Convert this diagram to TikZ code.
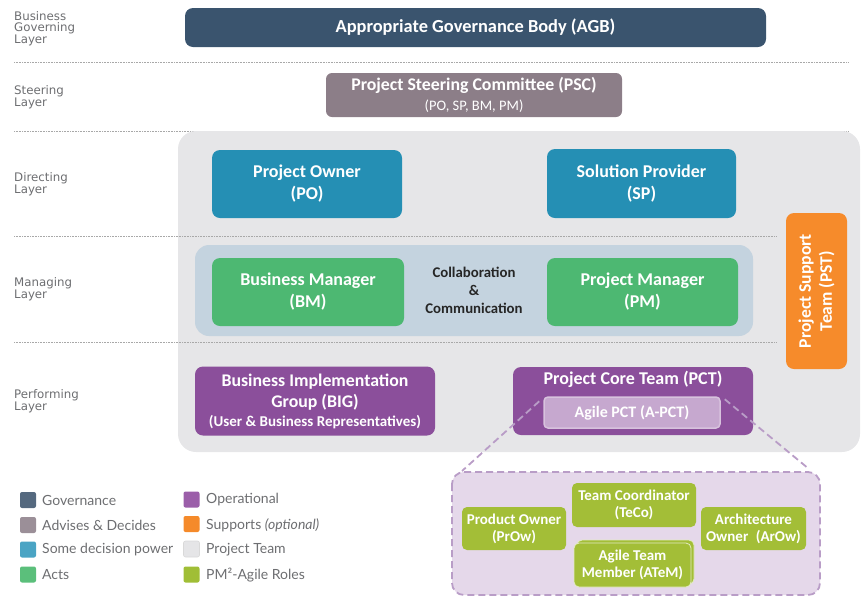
\documentclass[tikz,border=0pt]{standalone}
\usepackage{fontspec}
\setmainfont{Carlito}
\newfontfamily\lblfont{Lato}
\newfontfamily\layfont{DejaVu Sans}
\usetikzlibrary{calc}
\definecolor{agbc}{HTML}{3A546E}
\definecolor{pscc}{HTML}{8C7E88}
\definecolor{dirc}{HTML}{258FB4}
\definecolor{collc}{HTML}{C4D3DF}
\definecolor{actc}{HTML}{4DB872}
\definecolor{pstc}{HTML}{F68B2B}
\definecolor{purc}{HTML}{8B4F9B}
\definecolor{apctc}{HTML}{C6A8CF}
\definecolor{apctb}{HTML}{D7C2DD}
\definecolor{agfill}{HTML}{E5D8EA}
\definecolor{agline}{HTML}{B99DC7}
\definecolor{rolec}{HTML}{A3BE37}
\definecolor{teamc}{HTML}{E6E6E8}
\definecolor{lblc}{HTML}{6D6E71}
\definecolor{dotc}{HTML}{A8A8A8}
\definecolor{lgov}{HTML}{55697F}
\definecolor{ladv}{HTML}{9B8F98}
\definecolor{ldec}{HTML}{4AA4C4}
\definecolor{lact}{HTML}{5BBF7B}
\definecolor{lop}{HTML}{9B5EA9}
\definecolor{lsup}{HTML}{F58A2A}
\definecolor{lpt}{HTML}{E5E5E7}
\definecolor{lpm}{HTML}{A0BE36}
\newcommand{\fsz}[2]{\fontsize{#1}{#2}\selectfont}
\begin{document}
\begin{tikzpicture}[x=1pt,y=-1pt,
  rolebox/.style={rounded corners=8pt, inner sep=0pt, align=center, text=white,
    font=\bfseries\fsz{18}{22}},
  agrole/.style={rounded corners=5pt, inner sep=0pt, align=center, text=white, fill=rolec,
    font=\bfseries\fsz{15}{17}},
  layerlbl/.style={anchor=north west, inner sep=0pt, align=left, text=lblc,
    font=\layfont\fsz{11.8}{11}},
  sep/.style={dotc, densely dotted, line width=0.6pt},
  legsq/.style={rounded corners=2pt, minimum width=16pt, minimum height=16pt, inner sep=0pt},
  legtxt/.style={anchor=west, inner sep=0pt, text=lblc, font=\lblfont\fsz{14}{16}},
  dashln/.style={agline, line width=1.8pt, dash pattern=on 7pt off 4pt}
]
\useasboundingbox (0,0) rectangle (861,598);

% separators
\coordinate (s1a) at (14,62);  \coordinate (s1b) at (848,62);
\coordinate (s2a) at (14,131); \coordinate (s2b) at (848,131);
\draw[sep] (s1a) -- (s1b);
\draw[sep] (s2a) -- (s2b);

% project team background
\fill[teamc, rounded corners=18pt] (178,131) rectangle (860,452);

\coordinate (s3a) at (14,236); \coordinate (s3b) at (777,236);
\coordinate (s4a) at (14,342); \coordinate (s4b) at (777,342);
\draw[sep] (s3a) -- (s3b);

% collaboration background
\node[fill=collc, rounded corners=14pt, minimum width=558pt, minimum height=91pt, inner sep=0pt] (collab) at (474,290.5) {};
\draw[sep] (s4a) -- (s4b);

% layer labels
\node[layerlbl] (l1) at (14,11.5) {Business\\Governing\\Layer};
\node[layerlbl] (l2) at (14,85.5) {Steering\\Layer};
\node[layerlbl] (l3) at (14,172.5) {Directing\\Layer};
\node[layerlbl] (l4) at (14,277.5) {Managing\\Layer};
\node[layerlbl] (l5) at (14,389.5) {Performing\\Layer};

% boxes
\node[rolebox, fill=agbc, minimum width=581pt, minimum height=39pt, font=\bfseries\fsz{18.4}{20}] (agb) at (475.5,27.5) {Appropriate Governance Body (AGB)};
\node[rolebox, fill=pscc, minimum width=296pt, minimum height=44pt, rounded corners=6pt, font=\bfseries\fsz{17.8}{20}] (psc) at (474,95)
  {Project Steering Committee (PSC)\\{\mdseries\fsz{14.5}{15}(PO, SP, BM, PM)}};
\node[rolebox, fill=dirc, minimum width=190pt, minimum height=68pt, text depth=4pt] (po) at (307,184) {Project Owner\\(PO)};
\node[rolebox, fill=dirc, minimum width=189pt, minimum height=69pt] (sp) at (641.5,183.5) {Solution Provider\\(SP)};
\node[rolebox, fill=actc, minimum width=192pt, minimum height=68pt] (bm) at (308,292) {Business Manager\\(BM)};
\node[rolebox, fill=actc, minimum width=191pt, minimum height=68pt] (pm) at (642.5,292) {Project Manager\\(PM)};
\node[align=center, inner sep=0pt, text=black!85, font=\bfseries\fsz{14.8}{18}] (cc) at (474,290) {Collaboration\\\&\\Communication};
\node[rolebox, fill=pstc, minimum width=156pt, minimum height=61pt, rotate=90, font=\bfseries\fsz{17.6}{21}] (pst) at (816.5,291) {Project Support\\Team (PST)};
\node[rolebox, fill=purc, minimum width=240pt, minimum height=69pt, font=\bfseries\fsz{17.8}{21}] (big) at (315,401)
  {Business Implementation\\Group (BIG)\\[-2pt]{\fsz{15}{16}(User \& Business Representatives)}};
\node[fill=purc, rounded corners=8pt, minimum width=240pt, minimum height=68pt, inner sep=0pt] (pct) at (633,401) {};
\node[text=white, font=\bfseries\fsz{18}{20}, inner sep=0pt] (pctt) at (633,379.5) {Project Core Team (PCT)};
\node[fill=apctc, draw=apctb, line width=1.5pt, rounded corners=4pt, minimum width=176pt, minimum height=31pt, inner sep=0pt,
  text=white, font=\bfseries\fsz{16}{18}] (apct) at (632,412.5) {Agile PCT (A-PCT)};

% agile box
\draw[dashln, fill=agfill, rounded corners=12pt] (452,472) rectangle (820,595);
\coordinate (agnw) at (462,471);
\coordinate (agne) at (809,469);
\path (apct.north west) ++(-4,5) coordinate (lst);
\path (apct.north east) ++(4,3) coordinate (rst);
\draw[dashln] (lst) -- (agnw);
\draw[dashln] (rst) -- (agne);

\node[agrole, minimum width=104pt, minimum height=43pt] (prow) at (514,528.5) {Product Owner\\(PrOw)};
\node[agrole, minimum width=124pt, minimum height=44pt] (teco) at (634,505) {Team Coordinator\\(TeCo)};
\node[agrole, minimum width=105pt, minimum height=43pt] (arow) at (753.5,528.5) {Architecture\\Owner\enspace(ArOw)};
\node[agrole, draw=white!70!rolec, line width=0.8pt, minimum width=117pt, minimum height=44pt] (atemb) at (635.5,562) {};
\node[agrole, draw=white!70!rolec, line width=0.8pt, minimum width=117pt, minimum height=44pt] (atem) at (632.5,565) {Agile Team\\Member (ATeM)};

% legend
\node[legsq, fill=lgov] (q1) at (28,500) {};
\node[legtxt] (t1) at (42,500) {Governance};
\node[legsq, fill=ladv] (q2) at (28,525) {};
\node[legtxt] (t2) at (42,525) {Advises \& Decides};
\node[legsq, fill=ldec] (q3) at (28,549.5) {};
\node[legtxt] (t3) at (42,549.5) {Some decision power};
\node[legsq, fill=lact] (q4) at (28,574.5) {};
\node[legtxt] (t4) at (42,574.5) {Acts};
\node[legsq, fill=lop] (q5) at (191.5,499.5) {};
\node[legtxt] (t5) at (206,500) {Operational};
\node[legsq, fill=lsup] (q6) at (191.5,524) {};
\node[legtxt] (t6) at (206,525) {Supports \textit{(optional)}};
\node[legsq, fill=lpt, draw=black!15, line width=0.6pt] (q7) at (191.5,549) {};
\node[legtxt] (t7) at (206,549.5) {Project Team};
\node[legsq, fill=lpm] (q8) at (191.5,574.5) {};
\node[legtxt] (t8) at (206,575) {PM²-Agile Roles};
\end{tikzpicture}
\end{document}
